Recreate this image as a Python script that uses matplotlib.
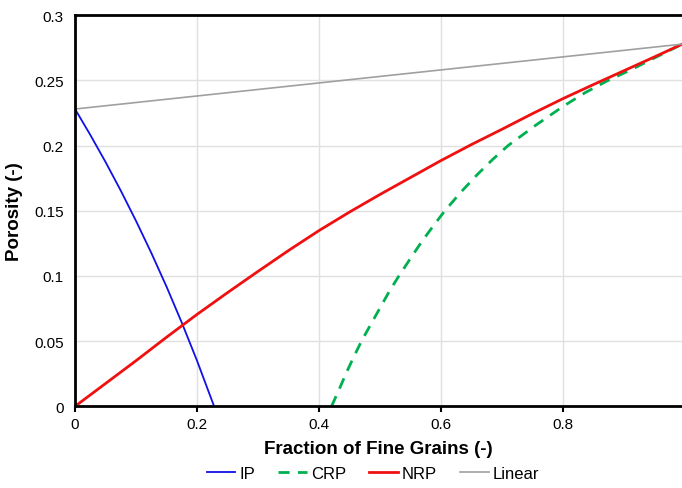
import numpy as np
import matplotlib
matplotlib.use("Agg")
import matplotlib.pyplot as plt

plt.rcParams['font.family'] = ['Liberation Sans', 'DejaVu Sans']

# IP curve
ip_x = [0.0, 0.025, 0.05, 0.075, 0.1, 0.125, 0.15, 0.175, 0.2, 0.228]
ip_y = [0.228, 0.2082, 0.1874, 0.1654, 0.1422, 0.1177, 0.0918, 0.0642, 0.035, 0.0]

# CRP curve
crp_x = [0.4205, 0.433, 0.445, 0.457, 0.4696, 0.485, 0.5, 0.515, 0.5309, 0.55, 0.5686,
         0.5875, 0.6063, 0.633, 0.66, 0.685, 0.71, 0.755, 0.8, 0.836, 0.872, 0.91, 0.95, 0.995]
crp_y = [0.0, 0.013, 0.026, 0.038, 0.05, 0.063, 0.0755, 0.088, 0.1, 0.1135, 0.1265,
         0.1385, 0.15, 0.1645, 0.178, 0.1895, 0.2, 0.2155, 0.23, 0.2405, 0.2495, 0.2578, 0.2672, 0.2777]

# NRP curve
nrp_x = [0.0, 0.05, 0.1, 0.15, 0.2, 0.25, 0.3, 0.35, 0.4, 0.45, 0.5, 0.55,
         0.6, 0.65, 0.7, 0.75, 0.8, 0.85, 0.9, 0.95, 0.995]
nrp_y = [0.0, 0.0175, 0.035, 0.053, 0.0705, 0.0872, 0.1035, 0.1195, 0.1348, 0.149, 0.1625, 0.1755,
         0.1885, 0.2008, 0.2125, 0.2245, 0.236, 0.2468, 0.2574, 0.268, 0.2777]

# Linear mixing line
lin_x = [0.0, 1.0]
lin_y = [0.228, 0.278]

fig = plt.figure(figsize=(6.82, 4.89), dpi=100)
ax = fig.add_axes([0.11, 0.167, 0.89, 0.8])

ax.plot(ip_x, ip_y, color='#1010E8', lw=1.3, label='IP')
ax.plot(crp_x, crp_y, color='#00B050', lw=2, ls=(0, (4, 3)), label='CRP')
ax.plot(nrp_x, nrp_y, color='#F01010', lw=2, label='NRP')
ax.plot(lin_x, lin_y, color='#A0A0A0', lw=1.2, label='Linear')

ax.set_xlim(0, 0.995)
ax.set_ylim(0, 0.3)
ax.set_xticks([0, 0.2, 0.4, 0.6, 0.8])
ax.set_xticklabels(['0', '0.2', '0.4', '0.6', '0.8'])
ax.set_yticks([0, 0.05, 0.1, 0.15, 0.2, 0.25, 0.3])
ax.set_yticklabels(['0', '0.05', '0.1', '0.15', '0.2', '0.25', '0.3'])
ax.grid(True, color='#E0E0E0', lw=1)
ax.set_axisbelow(True)

for s in ['left', 'bottom', 'top']:
    ax.spines[s].set_linewidth(2)
    ax.spines[s].set_color('black')
ax.spines['right'].set_visible(False)
ax.tick_params(axis='x', length=4, width=1.5, labelsize=11, pad=4)
ax.tick_params(axis='y', length=0, labelsize=11, pad=8)

ax.set_xlabel('Fraction of Fine Grains (-)', fontsize=13.5, fontweight='bold', labelpad=6)
ax.set_ylabel('Porosity (-)', fontsize=13.5, fontweight='bold', labelpad=8)

ax.legend(loc='upper center', bbox_to_anchor=(0.491, -0.115), ncol=4, frameon=False,
          fontsize=12, handlelength=1.7, handletextpad=0.25, columnspacing=1.4)

fig.savefig('out.png', dpi=100)
